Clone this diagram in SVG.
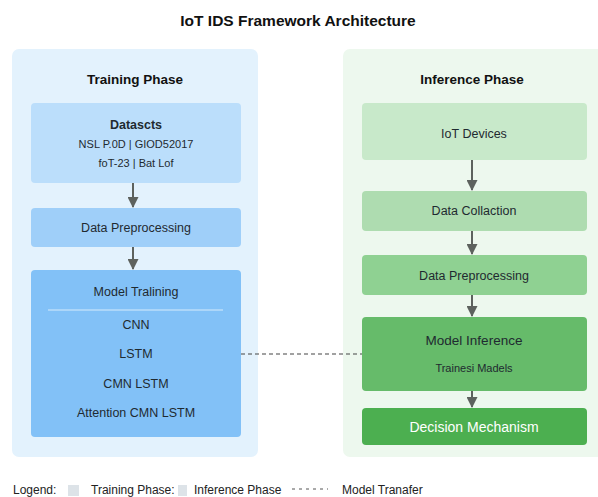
<svg xmlns="http://www.w3.org/2000/svg" width="598" height="497" viewBox="0 0 598 497">
<defs>
<marker id="ah" markerWidth="11" markerHeight="11" refX="10" refY="5.5" orient="auto" markerUnits="userSpaceOnUse" viewBox="0 0 11 11">
<path d="M0,0 L11,5.5 L0,11 Z" fill="#5d625e"/>
</marker>
<style>
text{font-family:"Liberation Sans",Arial,sans-serif;fill:#1f2a30;text-anchor:middle;dominant-baseline:central}
.h{font-weight:bold;font-size:13.5px;fill:#111}
.n{font-size:12.5px}
.s{font-size:11px}
.lg{font-size:12px;text-anchor:start;fill:#222}
.arr{stroke:#5d625e;stroke-width:2;fill:none;marker-end:url(#ah)}
</style>
</defs>
<rect width="598" height="497" fill="#ffffff"/>
<text x="298" y="20" style="font-weight:bold;font-size:15.5px;fill:#111">IoT IDS Framework Architecture</text>

<g id="training-phase">
<rect x="12" y="49" width="246" height="408" rx="7" fill="#e3f2fd"/>
<text class="h" x="135" y="79">Training Phase</text>
</g>
<g id="inference-phase">
<rect x="343" y="49" width="262" height="408" rx="7" fill="#edf8ee"/>
<text class="h" x="472" y="79">Inference Phase</text>
</g>

<g id="datasets">
<rect x="31" y="103" width="210" height="80" rx="4" fill="#bbdefb"/>
<text x="136" y="125" style="font-weight:bold;font-size:12.5px">Datascts</text>
<text class="s" x="136" y="144">NSL P.0D | GIOD52017</text>
<text class="s" x="136" y="163">foT-23 | Bat Lof</text>
</g>
<g id="data-preprocessing-train">
<rect x="31" y="208" width="210" height="39" rx="4" fill="#9fcff9"/>
<text class="n" x="136" y="228">Data Preprocessing</text>
</g>
<g id="model-training">
<rect x="31" y="270" width="210" height="167" rx="4" fill="#82c1f7"/>
<text class="n" x="136" y="292">Model Tralining</text>
<line x1="48" y1="310" x2="223" y2="310" stroke="#d6ebfb" stroke-width="1"/>
<text class="n" x="136" y="325">CNN</text>
<text class="n" x="136" y="354">LSTM</text>
<text class="n" x="136" y="384">CMN LSTM</text>
<text class="n" x="136" y="413">Attention CMN LSTM</text>
</g>

<g id="iot-devices">
<rect x="362" y="103" width="225" height="57" rx="4" fill="#c8e9ca"/>
<text class="n" x="474" y="134">IoT Devices</text>
</g>
<g id="data-collection">
<rect x="362" y="191" width="225" height="40" rx="4" fill="#aedcb0"/>
<text class="n" x="474" y="211">Data Collaction</text>
</g>
<g id="data-preprocessing-inf">
<rect x="362" y="255" width="225" height="40" rx="4" fill="#8fd192"/>
<text class="n" x="474" y="276">Data Preprocessing</text>
</g>
<g id="model-inference">
<rect x="362" y="317" width="225" height="74" rx="4" fill="#66bb6a"/>
<text x="474" y="340" style="font-size:13.5px">Model Inference</text>
<text class="s" x="474" y="368">Trainesi Madels</text>
</g>
<g id="decision-mechanism">
<rect x="362" y="408" width="225" height="37" rx="4" fill="#4caf50"/>
<text x="474" y="427" style="font-size:14px;fill:#ffffff">Decision Mechanism</text>
</g>

<g id="connectors">
<line class="arr" x1="133" y1="183" x2="133" y2="207"/>
<line class="arr" x1="133" y1="247" x2="133" y2="269"/>
<line class="arr" x1="472" y1="160" x2="472" y2="190"/>
<line class="arr" x1="472" y1="231" x2="472" y2="254"/>
<line class="arr" x1="472" y1="295" x2="472" y2="316"/>
<line class="arr" x1="472" y1="391" x2="472" y2="407"/>
<line x1="241" y1="354" x2="362" y2="354" stroke="#444" stroke-width="1.2" stroke-dasharray="4 3"/>
</g>

<g id="legend">
<text class="lg" x="13" y="490">Logend:</text>
<rect x="68" y="485" width="11" height="11" fill="#dde3e8"/>
<text class="lg" x="91" y="490">Training Phase:</text>
<rect x="178" y="485" width="9" height="11" fill="#dde3e8"/>
<text class="lg" x="194" y="490">Inference Phase</text>
<line x1="292" y1="489" x2="328" y2="489" stroke="#555" stroke-width="1" stroke-dasharray="3 4"/>
<text class="lg" x="342" y="490">Model Tranafer</text>
</g>
</svg>
